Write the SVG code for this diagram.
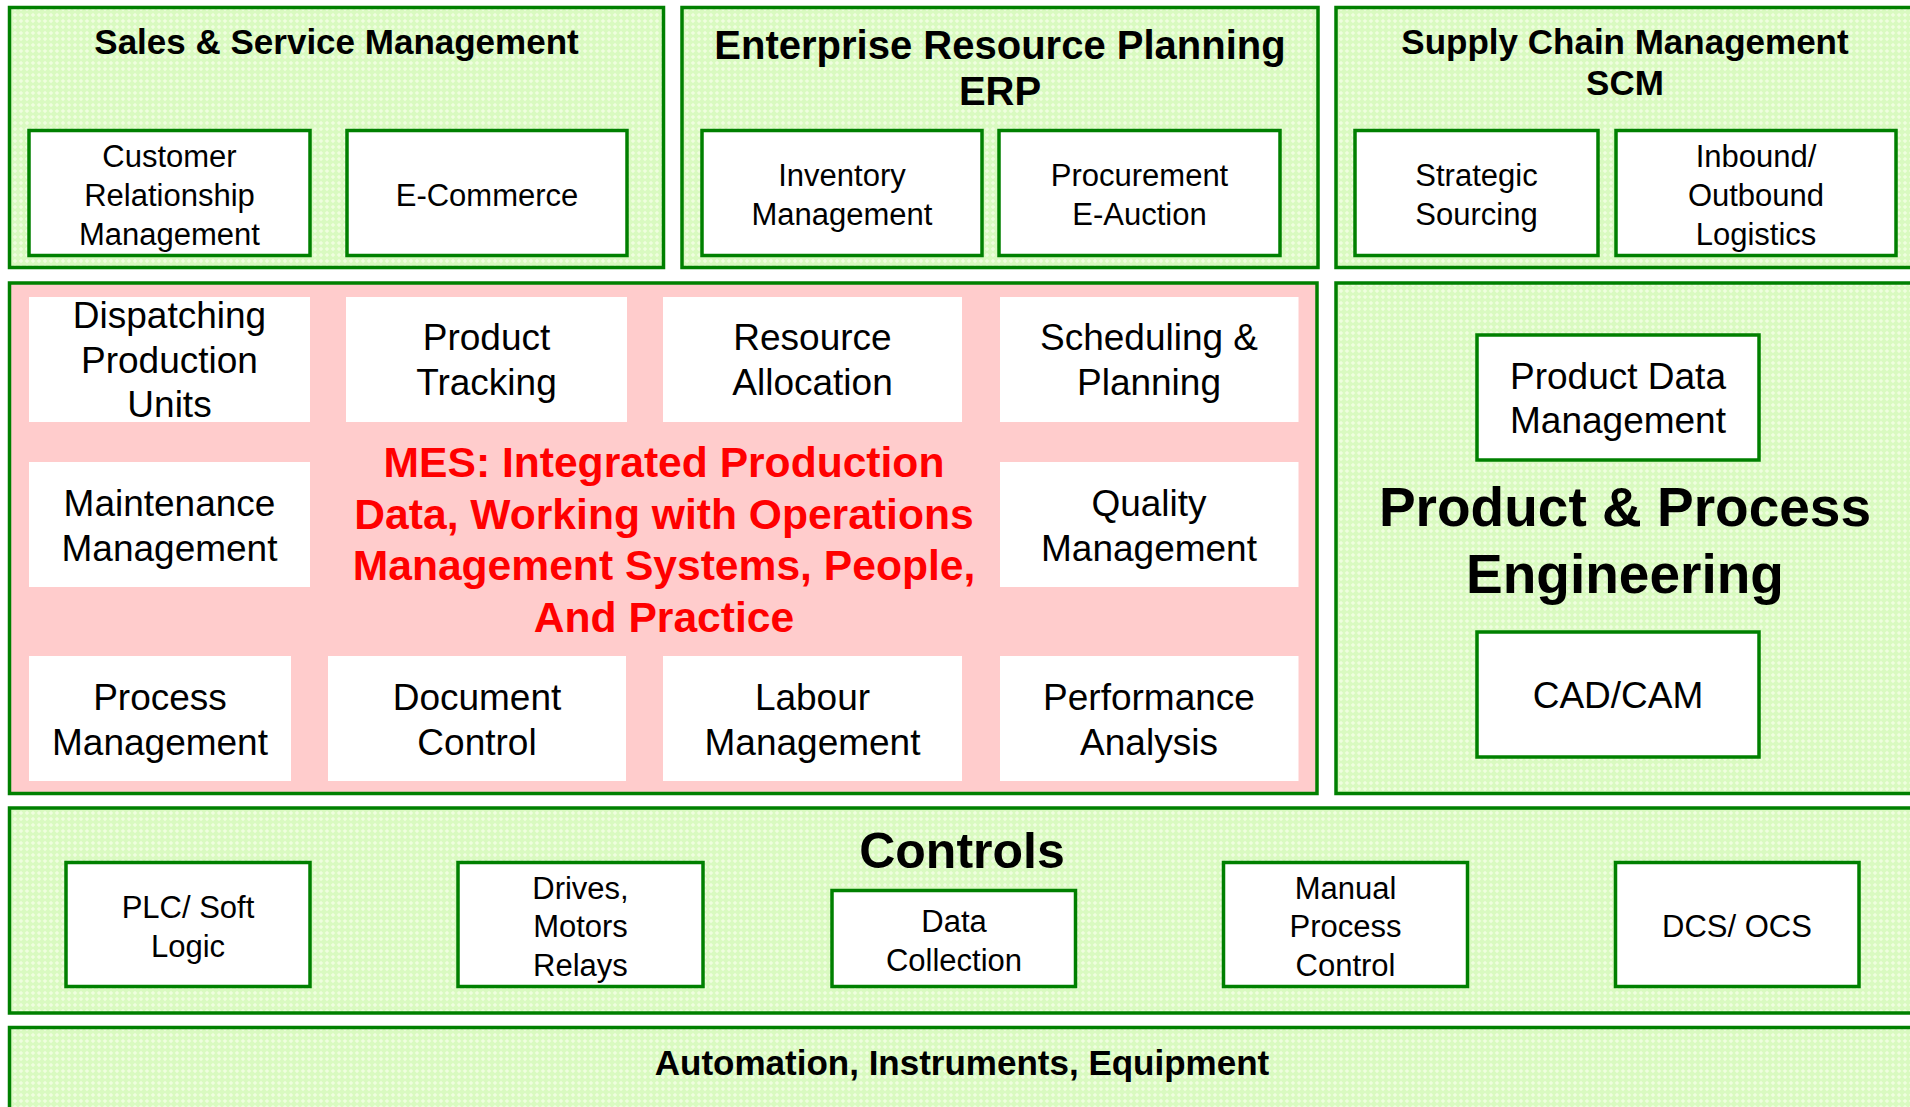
<svg xmlns="http://www.w3.org/2000/svg" width="1910" height="1107" viewBox="0 0 1910 1107">
<defs>
<pattern id="hatch" width="6" height="6" patternUnits="userSpaceOnUse">
<rect width="6" height="6" fill="#d9fac0"/>
<path d="M3 0.7 L5.3 3 L3 5.3 L0.7 3Z" fill="#effedf"/>
</pattern>
<style>
.outer{fill:url(#hatch);stroke:#008000;stroke-width:3.5}
.mes{fill:#ffcccc;stroke:#008000;stroke-width:3.5}
.inner{fill:#ffffff;stroke:#008000;stroke-width:3.5}
.plain{fill:#ffffff;stroke:none}
text{font-family:"Liberation Sans",Arial,sans-serif;text-anchor:middle;dominant-baseline:central;fill:#000}
.t31{font-size:31px}
.t37{font-size:37px}
.h35{font-size:35px;font-weight:bold}
.h40{font-size:40px;font-weight:bold}
.h50{font-size:50px;font-weight:bold}
.h55{font-size:55px;font-weight:bold}
.red{font-size:42.6px;font-weight:bold;fill:#ff0000;dominant-baseline:auto}
</style>
</defs>
<rect width="1910" height="1107" fill="#ffffff"/>

<g id="sales">
<rect class="outer" x="9.5" y="7.5" width="654" height="260"/>
<text class="h35" x="336.5" y="41">Sales &amp; Service Management</text>
</g>
<g id="crm">
<rect class="inner" x="29" y="130.5" width="281" height="125"/>
<text class="t31" x="169.5" y="156">Customer</text>
<text class="t31" x="169.5" y="195">Relationship</text>
<text class="t31" x="169.5" y="234">Management</text>
</g>
<g id="ecommerce">
<rect class="inner" x="347" y="130.5" width="280" height="125"/>
<text class="t31" x="487" y="195">E-Commerce</text>
</g>

<g id="erp">
<rect class="outer" x="682" y="7.5" width="636" height="260"/>
<text class="h40" x="1000" y="45">Enterprise Resource Planning</text>
<text class="h40" x="1000" y="91">ERP</text>
</g>
<g id="inventory">
<rect class="inner" x="702" y="130.5" width="280" height="125"/>
<text class="t31" x="842" y="175.5">Inventory</text>
<text class="t31" x="842" y="214.5">Management</text>
</g>
<g id="procurement">
<rect class="inner" x="999" y="130.5" width="281" height="125"/>
<text class="t31" x="1139.5" y="175.5">Procurement</text>
<text class="t31" x="1139.5" y="214.5">E-Auction</text>
</g>

<g id="scm">
<rect class="outer" x="1336" y="7.5" width="580" height="260"/>
<text class="h35" x="1625" y="41">Supply Chain Management</text>
<text class="h35" x="1625" y="82">SCM</text>
</g>
<g id="sourcing">
<rect class="inner" x="1355" y="130.5" width="243" height="125"/>
<text class="t31" x="1476.5" y="175.5">Strategic</text>
<text class="t31" x="1476.5" y="214.5">Sourcing</text>
</g>
<g id="logistics">
<rect class="inner" x="1616" y="130.5" width="280" height="125"/>
<text class="t31" x="1756" y="156">Inbound/</text>
<text class="t31" x="1756" y="195">Outbound</text>
<text class="t31" x="1756" y="234">Logistics</text>
</g>

<g id="mes">
<rect class="mes" x="9.5" y="283" width="1307.5" height="510.5"/>
<text class="red" x="664" y="477">MES: Integrated Production</text>
<text class="red" x="664" y="528.5">Data, Working with Operations</text>
<text class="red" x="664" y="580">Management Systems, People,</text>
<text class="red" x="664" y="631.5">And Practice</text>
</g>
<g id="dispatching">
<rect class="plain" x="29" y="297" width="281" height="125"/>
<text class="t37" x="169.5" y="315.5">Dispatching</text>
<text class="t37" x="169.5" y="360.5">Production</text>
<text class="t37" x="169.5" y="404.5">Units</text>
</g>
<g id="tracking">
<rect class="plain" x="346" y="297" width="281" height="125"/>
<text class="t37" x="486.5" y="337.5">Product</text>
<text class="t37" x="486.5" y="382.5">Tracking</text>
</g>
<g id="resource">
<rect class="plain" x="663" y="297" width="299" height="125"/>
<text class="t37" x="812.5" y="337.5">Resource</text>
<text class="t37" x="812.5" y="382.5">Allocation</text>
</g>
<g id="scheduling">
<rect class="plain" x="1000" y="297" width="298.5" height="125"/>
<text class="t37" x="1149" y="337.5">Scheduling &amp;</text>
<text class="t37" x="1149" y="382.5">Planning</text>
</g>
<g id="maintenance">
<rect class="plain" x="29" y="462" width="281" height="125"/>
<text class="t37" x="169.5" y="503">Maintenance</text>
<text class="t37" x="169.5" y="548">Management</text>
</g>
<g id="quality">
<rect class="plain" x="1000" y="462" width="298.5" height="125"/>
<text class="t37" x="1149" y="503">Quality</text>
<text class="t37" x="1149" y="548">Management</text>
</g>
<g id="process">
<rect class="plain" x="29" y="656" width="262" height="125"/>
<text class="t37" x="160" y="697">Process</text>
<text class="t37" x="160" y="742">Management</text>
</g>
<g id="document">
<rect class="plain" x="328" y="656" width="298" height="125"/>
<text class="t37" x="477" y="697">Document</text>
<text class="t37" x="477" y="742">Control</text>
</g>
<g id="labour">
<rect class="plain" x="663" y="656" width="299" height="125"/>
<text class="t37" x="812.5" y="697">Labour</text>
<text class="t37" x="812.5" y="742">Management</text>
</g>
<g id="performance">
<rect class="plain" x="1000" y="656" width="298.5" height="125"/>
<text class="t37" x="1149" y="697">Performance</text>
<text class="t37" x="1149" y="742">Analysis</text>
</g>

<g id="ppe">
<rect class="outer" x="1336" y="283" width="580" height="510.5"/>
<text class="h55" x="1625" y="507">Product &amp; Process</text>
<text class="h55" x="1625" y="574">Engineering</text>
</g>
<g id="pdm">
<rect class="inner" x="1477" y="335" width="282" height="125"/>
<text class="t37" x="1618" y="376">Product Data</text>
<text class="t37" x="1618" y="420">Management</text>
</g>
<g id="cadcam">
<rect class="inner" x="1477" y="632" width="282" height="125"/>
<text class="t37" x="1618" y="695">CAD/CAM</text>
</g>

<g id="controls">
<rect class="outer" x="9.5" y="808" width="1906.5" height="205"/>
<text class="h50" x="962" y="851">Controls</text>
</g>
<g id="plc">
<rect class="inner" x="66" y="862.5" width="244" height="124"/>
<text class="t31" x="188" y="907.5">PLC/ Soft</text>
<text class="t31" x="188" y="946.5">Logic</text>
</g>
<g id="drives">
<rect class="inner" x="458" y="862.5" width="245" height="124"/>
<text class="t31" x="580.5" y="888">Drives,</text>
<text class="t31" x="580.5" y="926">Motors</text>
<text class="t31" x="580.5" y="965">Relays</text>
</g>
<g id="datacollection">
<rect class="inner" x="832" y="890.5" width="243.5" height="96"/>
<text class="t31" x="954" y="921">Data</text>
<text class="t31" x="954" y="960">Collection</text>
</g>
<g id="manual">
<rect class="inner" x="1223.5" y="862.5" width="244" height="124"/>
<text class="t31" x="1345.5" y="888">Manual</text>
<text class="t31" x="1345.5" y="926">Process</text>
<text class="t31" x="1345.5" y="965">Control</text>
</g>
<g id="dcs">
<rect class="inner" x="1615.5" y="862.5" width="243.5" height="124"/>
<text class="t31" x="1737" y="926">DCS/ OCS</text>
</g>

<g id="automation">
<rect class="outer" x="9.5" y="1027.5" width="1906.5" height="100"/>
<text class="h35" x="962" y="1062">Automation, Instruments, Equipment</text>
</g>

<g id="connectors"></g>
</svg>
